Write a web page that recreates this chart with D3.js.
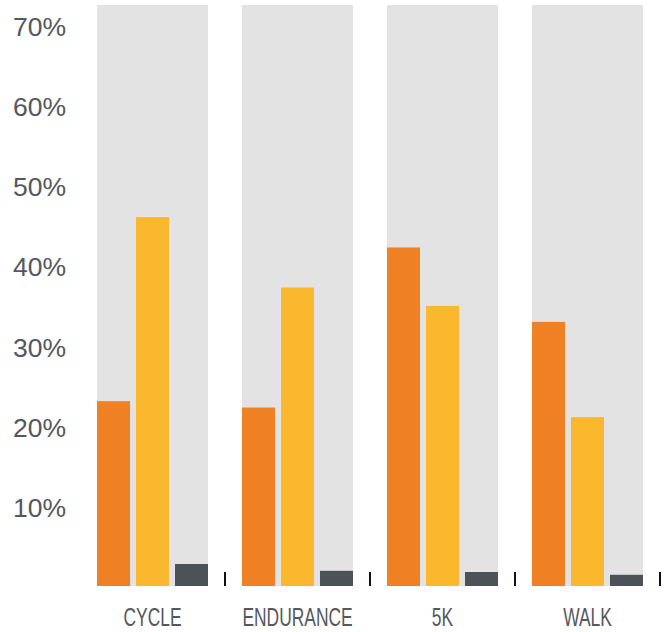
<!DOCTYPE html>
<html>
<head>
<meta charset="utf-8">
<script src="https://cdn.jsdelivr.net/npm/d3@7"></script>
<style>
  html, body { margin: 0; padding: 0; background: #fff; }
  svg { display: block; }
</style>
</head>
<body>
<svg id="chart" width="665" height="632"></svg>
<script>
const categories = ["CYCLE", "ENDURANCE", "5K", "WALK"];
const seriesNames = ["s1", "s2", "s3"];
const seriesA = [23.1, 22.3, 42.3, 33.0];
const seriesB = [46.1, 37.3, 35.0, 21.1];
const seriesC = [2.75, 1.9, 1.75, 1.4];
const yTicks = [10, 20, 30, 40, 50, 60, 70];
const yMax = 72.6;

const colors = ["#EF8124", "#FBB82E", "#4D5259"];
const panelColor = "#E3E3E3";

const svg = d3.select("#chart");

const x = d3.scaleBand()
  .domain(categories)
  .range([80, 660])
  .paddingInner(34 / 145)
  .paddingOuter(17 / 145);

const xInner = d3.scaleBand()
  .domain(seriesNames)
  .range([0, x.bandwidth()])
  .paddingInner(6 / 39);

const y = d3.scaleLinear().domain([0, yMax]).range([586, 5]);

const data = categories.map((c, i) => ({
  cat: c,
  vals: [seriesA[i], seriesB[i], seriesC[i]]
}));

// panels
svg.append("g").selectAll("rect")
  .data(categories)
  .join("rect")
  .attr("x", d => x(d))
  .attr("y", y(yMax))
  .attr("width", x.bandwidth())
  .attr("height", y(0) - y(yMax))
  .attr("fill", panelColor);

// bars
const groups = svg.append("g").selectAll("g")
  .data(data)
  .join("g")
  .attr("transform", d => `translate(${x(d.cat)},0)`);

groups.selectAll("rect")
  .data(d => d.vals.map((v, j) => ({ s: seriesNames[j], v, j })))
  .join("rect")
  .attr("x", d => xInner(d.s))
  .attr("y", d => y(d.v))
  .attr("width", xInner.bandwidth())
  .attr("height", d => y(0) - y(d.v))
  .attr("fill", d => colors[d.j]);

// separator ticks
const gap = x.step() - x.bandwidth();
svg.append("g").selectAll("line")
  .data(categories)
  .join("line")
  .attr("x1", d => x(d) + x.bandwidth() + gap / 2)
  .attr("x2", d => x(d) + x.bandwidth() + gap / 2)
  .attr("y1", y(0) - 14)
  .attr("y2", y(0))
  .attr("stroke", "#111")
  .attr("stroke-width", 2);

// y labels
svg.append("g").selectAll("text")
  .data(yTicks)
  .join("text")
  .attr("x", 66)
  .attr("y", d => y(d))
  .attr("dy", "0.4em")
  .attr("text-anchor", "end")
  .attr("font-family", "'Liberation Sans', Arial, sans-serif")
  .attr("font-size", 26.5)
  .attr("fill", "#54585e")
  .text(d => d + "%");

// x labels (condensed)
svg.append("g").selectAll("text")
  .data(categories)
  .join("text")
  .attr("transform", d => `translate(${x(d) + x.bandwidth() / 2},626) scale(0.67,1)`)
  .attr("text-anchor", "middle")
  .attr("font-family", "'Liberation Sans', Arial, sans-serif")
  .attr("font-size", 26)
  .attr("fill", "#55585c")
  .text(d => d);
</script>
</body>
</html>
